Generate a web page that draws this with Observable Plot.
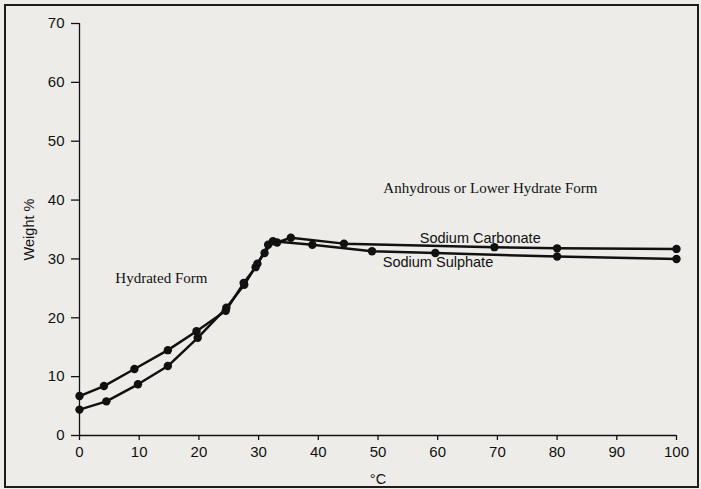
<!DOCTYPE html>
<html>
<head>
<meta charset="utf-8">
<script src="https://cdn.jsdelivr.net/npm/d3@7"></script>
<script src="https://cdn.jsdelivr.net/npm/@observablehq/plot@0.6"></script>
<style>
  html, body { margin: 0; padding: 0; background: #f1f1ef; }
  #chart { position: relative; width: 701px; height: 489px; }
  #chart svg { display: block; }
  #chart .border {
    position: absolute; left: 4px; top: 4px; right: 2px; bottom: 1px;
    border: 2px solid #1c1c1c; pointer-events: none;
  }
</style>
</head>
<body>
<div id="chart"><div class="border"></div></div>
<script>
// Solubility in water (weight %) against temperature (°C)
const sulphateTemp   = [0, 4.5, 9.8, 14.8, 19.8, 24.6, 27.6, 29.8, 31.0, 32.4, 39.0, 49.0, 59.6, 80.0, 100];
const sulphateWeight = [4.4, 5.8, 8.7, 11.8, 16.6, 21.7, 25.6, 29.2, 31.0, 33.0, 32.4, 31.3, 31.0, 30.4, 30.0];

const carbonateTemp   = [0, 4.1, 9.2, 14.8, 19.6, 24.5, 27.5, 29.5, 31.6, 33.1, 35.4, 44.3, 69.5, 80, 100];
const carbonateWeight = [6.7, 8.4, 11.3, 14.5, 17.7, 21.2, 25.9, 28.6, 32.4, 32.8, 33.6, 32.6, 32.0, 31.8, 31.7];

const xTicks = [0, 10, 20, 30, 40, 50, 60, 70, 80, 90, 100];
const yTicks = [0, 10, 20, 30, 40, 50, 60, 70];

// Region notes (serif) and series names (sans), placed in data units
const regionNotes = [
  {t: 6.0,  w: 26.7, label: "Hydrated Form"},
  {t: 50.9, w: 42.1, label: "Anhydrous or Lower Hydrate Form"}
];
const seriesNotes = [
  {t: 57.0, w: 33.5, label: "Sodium Carbonate"},
  {t: 50.8, w: 29.4, label: "Sodium Sulphate"}
];

const sulphate  = sulphateTemp.map((t, i) => ({t, w: sulphateWeight[i]}));
const carbonate = carbonateTemp.map((t, i) => ({t, w: carbonateWeight[i]}));

const ink = "#111";
const sans = "'Liberation Sans', Arial, Helvetica, sans-serif";
const serif = "'Liberation Serif', 'Times New Roman', serif";

const chart = Plot.plot({
  width: 701,
  height: 489,
  marginLeft: 79,
  marginRight: 25,
  marginTop: 23,
  marginBottom: 54,
  x: {domain: [0, 100]},
  y: {domain: [0, 70]},
  style: {background: "#edece9", fontFamily: sans, fontSize: "15px", color: ink},
  marks: [
    Plot.ruleY([0], {stroke: ink, strokeWidth: 1.3}),
    Plot.ruleX([0], {stroke: ink, strokeWidth: 1.3}),
    Plot.axisX({ticks: xTicks, tickSize: 5, tickPadding: 6, label: null, fontSize: 15, stroke: ink, strokeWidth: 1.3}),
    Plot.axisY({ticks: yTicks, tickSize: 8, tickPadding: 7, label: null, fontSize: 15, stroke: ink, strokeWidth: 1.3}),
    Plot.text(["Weight %"], {frameAnchor: "left", dx: -50, rotate: -90, textAnchor: "middle", lineAnchor: "middle", fontSize: 14.5, fill: ink}),
    Plot.text(["°C"], {frameAnchor: "bottom", dy: 44, textAnchor: "middle", lineAnchor: "middle", fontSize: 14.5, fill: ink}),
    Plot.line(sulphate, {x: "t", y: "w", stroke: ink, strokeWidth: 2.5}),
    Plot.line(carbonate, {x: "t", y: "w", stroke: ink, strokeWidth: 2.5}),
    Plot.dot(sulphate, {x: "t", y: "w", r: 4.2, fill: ink}),
    Plot.dot(carbonate, {x: "t", y: "w", r: 4.2, fill: ink}),
    Plot.text(regionNotes, {x: "t", y: "w", text: "label", textAnchor: "start", fontFamily: serif, fontSize: 15, fill: ink}),
    Plot.text(seriesNotes, {x: "t", y: "w", text: "label", textAnchor: "start", fontFamily: sans, fontSize: 14.5, fill: ink})
  ]
});

document.getElementById("chart").prepend(chart);
</script>
</body>
</html>
